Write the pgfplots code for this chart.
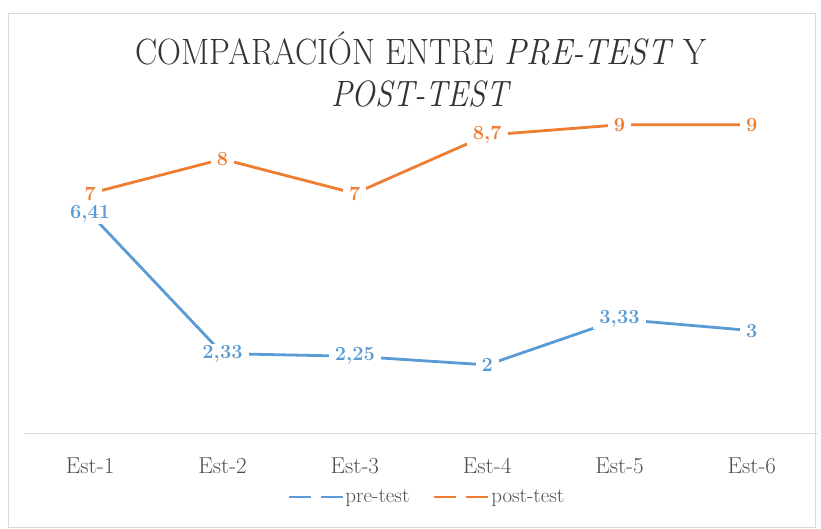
\documentclass[border=0pt]{standalone}
\usepackage{pgfplots}
\pgfplotsset{compat=1.18}
\definecolor{xblue}{HTML}{5B9BD5}
\definecolor{xorange}{HTML}{ED7D31}
\definecolor{xtitle}{HTML}{333333}
\definecolor{xtick}{HTML}{4D4D4D}
\definecolor{xgrid}{HTML}{D9D9D9}
\begin{document}
\begin{tikzpicture}
\path[use as bounding box] (0,0) rectangle (821pt,528pt);
\draw[xgrid, line width=0.8pt] (8pt,0.5pt) rectangle (815pt,515pt);
\node[text=xtitle, anchor=base, inner sep=0pt, font=\fontsize{36.6}{40}\selectfont] at (421pt,463pt) {\scalebox{0.905}[1]{COMPARACIÓN ENTRE \textit{PRE-TEST} Y}};
\node[text=xtitle, anchor=base, inner sep=0pt, font=\fontsize{36.6}{40}\selectfont] at (421pt,421pt) {\scalebox{0.86}[1]{\textit{POST-TEST}}};
\begin{axis}[
  at={(24pt,94.5pt)}, anchor=south west, scale only axis,
  width=794pt, height=343pt,
  xmin=-0.5, xmax=5.5, ymin=0, ymax=10, clip=false,
  hide y axis, axis x line=bottom,
  x axis line style={xgrid, line width=1.2pt, -},
  xtick={0,1,2,3,4,5},
  xticklabels={Est-1,Est-2,Est-3,Est-4,Est-5,Est-6},
  major tick length=0pt,
  xticklabel style={font=\fontsize{23}{23}\selectfont, text=xtick, anchor=base, yshift=-40pt},
  nodes near coords,
  every node near coord/.style={anchor=center, fill=white, inner xsep=6pt, inner ysep=1.5pt, font=\bfseries\fontsize{20}{20}\selectfont},
  /pgf/number format/assume math mode=true,
  /pgf/number format/use comma,
  legend style={at={(0.507,-0.185)}, anchor=center, draw=none, fill=none,
    legend columns=2, font=\fontsize{21}{21}\selectfont, text=xtick,
    nodes={inner sep=1.5pt},
    /tikz/every even column/.append style={column sep=22pt}},
  legend image code/.code={\draw[#1, line width=2.8pt, dash pattern=on 22pt off 10pt] (0pt,0pt) -- (54pt,0pt);},
]
\addplot[xblue, line width=2.8pt, mark=none, every node near coord/.append style={text=xblue}]
  coordinates {(0,6.41) (1,2.33) (2,2.25) (3,2) (4,3.33) (5,3)};
\addlegendentry{pre-test}
\addplot[xorange, line width=2.8pt, mark=none, every node near coord/.append style={text=xorange}]
  coordinates {(0,7) (1,8) (2,7) (3,8.7) (4,9) (5,9)};
\addlegendentry{post-test}
\end{axis}
\end{tikzpicture}
\end{document}
